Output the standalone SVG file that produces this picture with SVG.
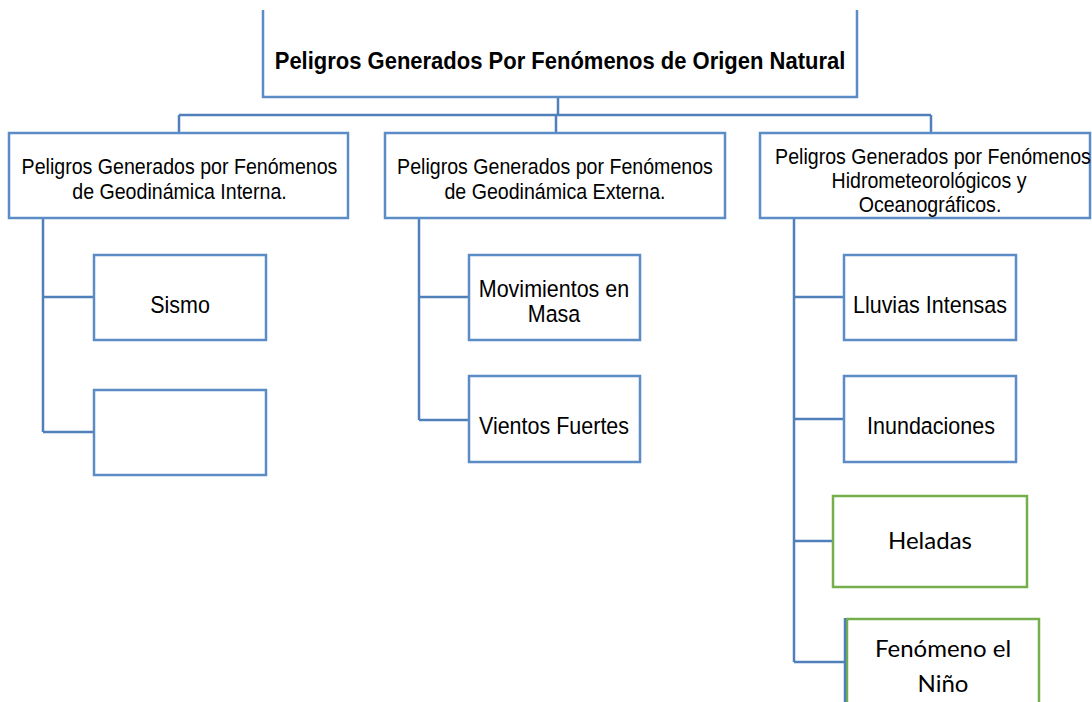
<svg xmlns="http://www.w3.org/2000/svg" width="1092" height="702" viewBox="0 0 1092 702">
<style>
.box{fill:#fff;stroke:#5b8cc6;stroke-width:2.5}
.gbox{fill:#fff;stroke:#74af4c;stroke-width:2.5}
.con{fill:none;stroke:#4f80ba;stroke-width:2.5}
.t{fill:#000;text-anchor:middle}
.h{font-size:19.6px}
.l{font-size:21.5px}
.c{fill:#000;font-size:24px;text-anchor:middle}
.title{font-size:22px;font-weight:bold}
</style>
<rect width="1092" height="702" fill="#fff"/>
<g id="connectors">
<path class="con" d="M558,97V115M179,115H931M179,115V133M556,115V133M931,115V133"/>
<path class="con" d="M43,218V432M43,297H94M43,432H94"/>
<path class="con" d="M419,218V420M419,297H469M419,420H469"/>
<path class="con" d="M794,218V662M794,297H844M794,419H844M794,541H833M794,662H845"/>
</g>
<g id="root">
<path class="box" d="M263,10V97H857V10" />
<text class="t title" font-family="'Liberation Sans', sans-serif" transform="translate(560,69) scale(1,1.12)">Peligros Generados Por Fenómenos de Origen Natural</text>
</g>
<g id="interna" font-family="'Liberation Sans', sans-serif">
<rect class="box" x="9" y="133" width="339" height="85"/>
<text class="t h" transform="translate(179.5,174) scale(1,1.12)">Peligros Generados por Fenómenos</text>
<text class="t h" transform="translate(179.5,199) scale(1,1.12)">de Geodinámica Interna.</text>
</g>
<g id="externa" font-family="'Liberation Sans', sans-serif">
<rect class="box" x="385" y="133" width="340" height="85"/>
<text class="t h" transform="translate(555,174) scale(1,1.12)">Peligros Generados por Fenómenos</text>
<text class="t h" transform="translate(555,199) scale(1,1.12)">de Geodinámica Externa.</text>
</g>
<g id="hidro" font-family="'Liberation Sans', sans-serif">
<rect class="box" x="760" y="133" width="330" height="85"/>
<text class="t h" transform="translate(933,164) scale(1,1.12)">Peligros Generados por Fenómenos</text>
<text class="t h" transform="translate(929,188) scale(1,1.12)">Hidrometeorológicos y</text>
<text class="t h" transform="translate(930,212) scale(1,1.12)">Oceanográficos.</text>
</g>
<g id="sismo" font-family="'Liberation Sans', sans-serif">
<rect class="box" x="94" y="255" width="172" height="85"/>
<text class="t l" transform="translate(180,313) scale(1,1.12)">Sismo</text>
</g>
<g id="vacio">
<rect class="box" x="94" y="390" width="172" height="85"/>
</g>
<g id="movimientos" font-family="'Liberation Sans', sans-serif">
<rect class="box" x="469" y="255" width="171" height="85"/>
<text class="t l" transform="translate(554,297) scale(1,1.12)">Movimientos en</text>
<text class="t l" transform="translate(554,322) scale(1,1.12)">Masa</text>
</g>
<g id="vientos" font-family="'Liberation Sans', sans-serif">
<rect class="box" x="469" y="376" width="171" height="86"/>
<text class="t l" transform="translate(554,434) scale(1,1.12)">Vientos Fuertes</text>
</g>
<g id="lluvias" font-family="'Liberation Sans', sans-serif">
<rect class="box" x="844" y="255" width="172" height="85"/>
<text class="t l" transform="translate(930,313) scale(1,1.12)">Lluvias Intensas</text>
</g>
<g id="inundaciones" font-family="'Liberation Sans', sans-serif">
<rect class="box" x="844" y="376" width="172" height="86"/>
<text class="t l" transform="translate(931,434) scale(1,1.12)">Inundaciones</text>
</g>
<g id="heladas" font-family="Lato, 'Noto Sans', sans-serif">
<rect class="gbox" x="833" y="496" width="194" height="91"/>
<text class="c" x="930" y="549">Heladas</text>
</g>
<g id="nino" font-family="Lato, 'Noto Sans', sans-serif">
<rect class="gbox" x="847" y="619" width="192" height="100"/>
<path class="con" d="M845,618V702"/>
<text class="c" x="943" y="657">Fenómeno el</text>
<text class="c" x="943" y="692">Niño</text>
</g>
</svg>
